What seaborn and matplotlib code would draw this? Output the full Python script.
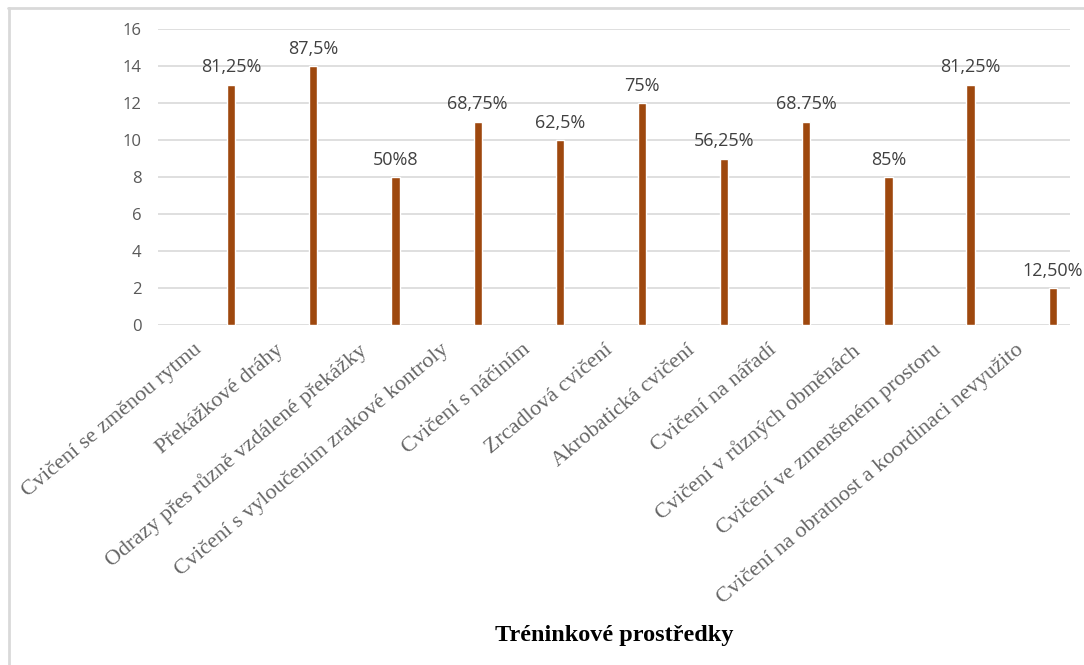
import numpy as np
import pandas as pd
import seaborn as sns
import matplotlib.pyplot as plt

categories = [
    'Cvičení se změnou rytmu',
    'Překážkové dráhy',
    'Odrazy přes různě vzdálené překážky',
    'Cvičení s vyloučením zrakové kontroly',
    'Cvičení s náčiním',
    'Zrcadlová cvičení',
    'Akrobatická cvičení',
    'Cvičení na nářadí',
    'Cvičení v různých obměnách',
    'Cvičení ve zmenšeném prostoru',
    'Cvičení na obratnost a koordinaci nevyužito',
]
counts = [13, 14, 8, 11, 10, 12, 9, 11, 8, 13, 2]
value_labels = ['81,25%', '87,5%', '50%8', '68,75%', '62,5%', '75%',
                '56,25%', '68.75%', '85%', '81,25%', '12,50%']

# the bar sits in the right part of each category slot
bar_shift = 0.46

df = pd.DataFrame({
    'pos': np.arange(len(categories)) + bar_shift,
    'count': counts,
})

sns.set_style('white')
fig = plt.figure(figsize=(10.84, 6.65), dpi=100)
ax = fig.add_axes([0.1458, 0.511, 0.8413, 0.445])

sns.barplot(data=df, x='pos', y='count', native_scale=True, width=0.1,
            color='#9E480E', saturation=1, ax=ax, zorder=3)

ax.set_ylim(0, 16)
ax.set_yticks(range(0, 17, 2))
ax.set_xlim(-0.43, 10.67)
ax.grid(axis='y', color='#d9d9d9', linewidth=1.2, zorder=0)
for side in ['top', 'right', 'left', 'bottom']:
    ax.spines[side].set_visible(False)
ax.tick_params(axis='y', length=0, pad=12, labelsize=12, labelcolor='#595959')
for t in ax.get_yticklabels():
    t.set_fontfamily('Open Sans')

ax.set_xticks(np.arange(len(categories)))
ax.set_xticklabels(categories, rotation=40, ha='right', rotation_mode='anchor',
                   fontfamily='Liberation Serif', fontsize=16, color='#666666')
ax.tick_params(axis='x', length=0, pad=11)

for bar, lab in zip(ax.patches, value_labels):
    ax.annotate(lab, (bar.get_x() + bar.get_width() / 2, bar.get_height()),
                xytext=(0, 6), textcoords='offset points', ha='center', va='bottom',
                fontsize=13, color='#404040', fontfamily='Open Sans')

ax.set_xlabel('')
ax.set_ylabel('')
fig.text(0.567, 0.045, 'Tréninkové prostředky', ha='center', va='center',
         fontfamily='Liberation Serif', fontweight='bold', fontsize=17.5, color='black')

# light frame on the left and top edges
fig.add_artist(plt.Line2D([0.0085, 0.0085], [0, 0.988], color='#d9d9d9',
                          linewidth=2, transform=fig.transFigure))
fig.add_artist(plt.Line2D([0.0075, 1], [0.988, 0.988], color='#d9d9d9',
                          linewidth=2, transform=fig.transFigure))

fig.savefig('out.png', dpi=100)
